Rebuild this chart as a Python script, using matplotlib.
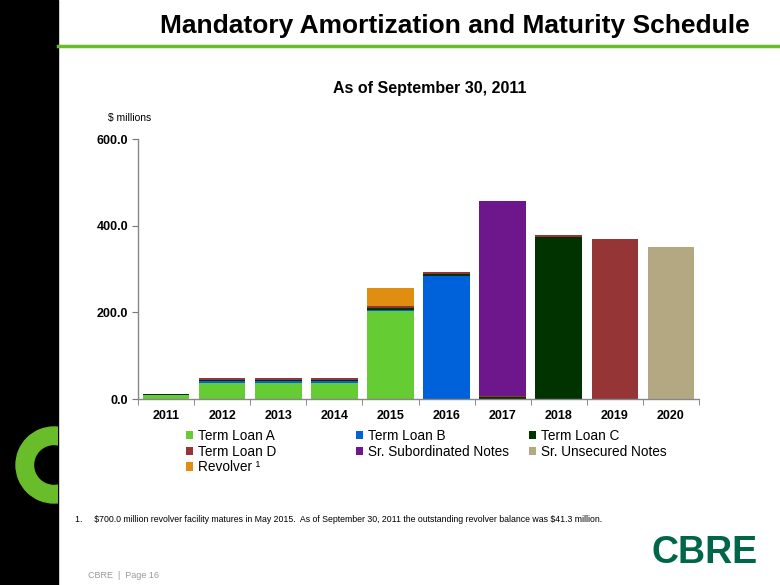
import numpy as np
import matplotlib
matplotlib.use("Agg")
import matplotlib.pyplot as plt
from matplotlib.patches import Rectangle, Wedge

# values in $ millions
years = ['2011', '2012', '2013', '2014', '2015', '2016', '2017', '2018', '2019', '2020']
term_loan_a = [9.3, 37.0, 37.0, 37.0, 203.0, 0, 0, 0, 0, 0]
term_loan_b = [0.9, 3.5, 3.5, 3.5, 3.5, 284.5, 0, 0, 0, 0]
term_loan_c = [0.9, 3.5, 3.5, 3.5, 3.5, 3.5, 3.5, 373.0, 0, 0]
term_loan_d = [1.0, 4.0, 4.0, 4.0, 4.0, 4.0, 4.0, 4.5, 370.0, 0]
sr_sub_notes = [0, 0, 0, 0, 0, 0, 450.0, 0, 0, 0]
sr_unsec_notes = [0, 0, 0, 0, 0, 0, 0, 0, 0, 350.0]
revolver = [0, 0, 0, 0, 41.3, 0, 0, 0, 0, 0]

series = [
    ('Term Loan A', term_loan_a, '#66CC33'),
    ('Term Loan B', term_loan_b, '#0062DA'),
    ('Term Loan C', term_loan_c, '#003300'),
    ('Term Loan D', term_loan_d, '#953535'),
    ('Sr. Subordinated Notes', sr_sub_notes, '#6E168C'),
    ('Sr. Unsecured Notes', sr_unsec_notes, '#B4A882'),
    ('Revolver \u00b9', revolver, '#E08E12'),
]

plt.rcParams['font.family'] = ['Liberation Sans', 'DejaVu Sans']

fig = plt.figure(figsize=(7.8, 5.85), dpi=100)

# slide decoration, drawn in pixel space
bg = fig.add_axes([0, 0, 1, 1], zorder=0)
bg.set_xlim(0, 780)
bg.set_ylim(585, 0)
bg.axis('off')
band = Rectangle((0, 0), 58, 585, color='black')
bg.add_patch(band)
ring = Wedge((54, 465), 38, 0, 360, width=17.5, color='#6ABD2A')
bg.add_patch(ring)
ring.set_clip_path(band)
bg.plot([58, 780], [46, 46], color='#6ABD2A', lw=2.5)

fig.text(750 / 780, 1 - 26 / 585, 'Mandatory Amortization and Maturity Schedule',
         ha='right', va='center', fontsize=19, fontweight='bold')
fig.text(430 / 780, 1 - 88 / 585, 'As of September 30, 2011', ha='center', va='center',
         fontsize=11.5, fontweight='bold')
fig.text(108 / 780, 1 - 118 / 585, '$ millions', ha='left', va='center', fontsize=7.5)
fig.text(75 / 780, 1 - 520 / 585,
         '1.     \\$700.0 million revolver facility matures in May 2015.  As of September 30, 2011 '
         'the outstanding revolver balance was \\$41.3 million.',
         ha='left', va='center', fontsize=6.3)
fig.text(758 / 780, 1 - 553 / 585, 'CBRE', ha='right', va='center', fontsize=27,
         fontweight='bold', color='#00664A')
fig.text(88 / 780, 1 - 575 / 585, 'CBRE  |  Page 16', ha='left', va='center',
         fontsize=6.5, color='#999999')

# chart
ax = fig.add_axes([138 / 780, 1 - 399 / 585, 561 / 780, 260 / 585], zorder=1)
ax.patch.set_alpha(0)
x = np.arange(len(years))
bottom = np.zeros(len(years))
handles = {}
for name, vals, col in series:
    vals = np.array(vals, dtype=float)
    b = ax.bar(x, vals, 0.83, bottom=bottom, color=col, linewidth=0, label=name)
    handles[name] = b
    bottom += vals

ax.set_xlim(-0.5, len(years) - 0.5)
ax.set_ylim(0, 600)
ax.set_yticks([0, 200, 400, 600])
ax.set_yticklabels(['0.0', '200.0', '400.0', '600.0'], fontsize=9, fontweight='bold')
ax.set_xticks(x)
ax.set_xticklabels(years, fontsize=9, fontweight='bold')
ax.set_xticks(np.arange(-0.5, len(years)), minor=True)
ax.tick_params(axis='x', which='major', length=0, pad=8)
ax.tick_params(axis='x', which='minor', length=4, direction='out', color='#777777')
ax.tick_params(axis='y', length=4, direction='out', color='#777777', pad=3)
for s in ['top', 'right']:
    ax.spines[s].set_visible(False)
for s in ['left', 'bottom']:
    ax.spines[s].set_color('#888888')
    ax.spines[s].set_linewidth(1)

# legend, three fixed columns
cols = [['Term Loan A', 'Term Loan D', 'Revolver \u00b9'],
        ['Term Loan B', 'Sr. Subordinated Notes'],
        ['Term Loan C', 'Sr. Unsecured Notes']]
xs = [186, 356, 529]
for cx, names in zip(xs, cols):
    leg = fig.legend([handles[n] for n in names], names, loc='upper left',
                     bbox_to_anchor=(cx / 780, 1 - 429 / 585), frameon=False,
                     fontsize=9.8, handlelength=0.55, handleheight=0.55, handletextpad=0.35,
                     labelspacing=0.12, borderpad=0, borderaxespad=0)
    for h in leg.legend_handles:
        h.set_edgecolor('none')

fig.savefig('out.png', dpi=100)
